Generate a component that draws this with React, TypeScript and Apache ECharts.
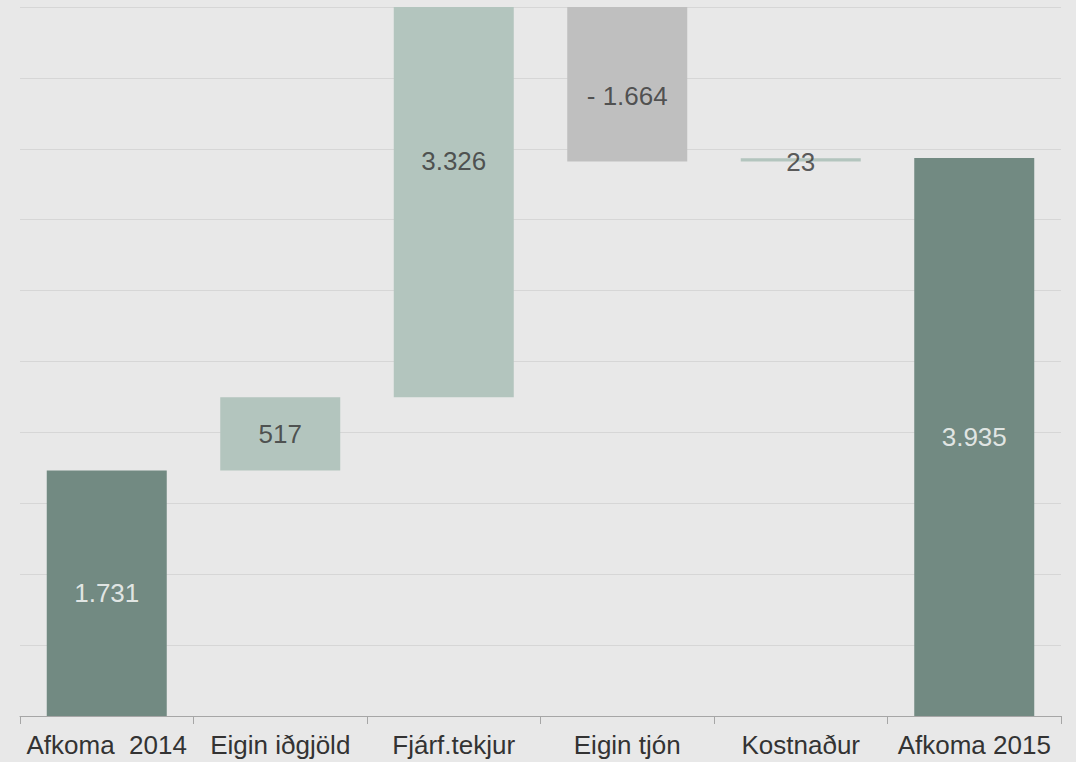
import React, { useEffect, useRef } from "react";
import * as echarts from "echarts";

const categories = ["Afkoma  2014", "Eigin iðgjöld", "Fjárf.tekjur", "Eigin tjón", "Kostnaður", "Afkoma 2015"];
const changes = [1731, 517, 3326, -1664, 23, 3935];
const isTotal = [true, false, false, false, false, true];
const yTicks = { min: 0, max: 5000, interval: 500 };

const DARK = "#728a82";
const LIGHT = "#b3c5be";
const NEG = "#bfbfbf";
const TEXT = "#333333";
const FONT = "'Liberation Sans', Arial, sans-serif";

function fmt(v: number): string {
  const s = Math.abs(v).toString().replace(/\B(?=(\d{3})+(?!\d))/g, ".");
  return (v < 0 ? "- " : "") + s;
}

export default function App() {
  const ref = useRef<HTMLDivElement>(null);
  useEffect(() => {
    document.body.style.margin = "0";
    if (!ref.current) return;
    const chart = echarts.init(ref.current, undefined, { renderer: "svg" });

    // waterfall layout from the values
    const bases: number[] = [];
    const heights: number[] = [];
    let running = 0;
    changes.forEach((c, i) => {
      if (isTotal[i]) {
        bases.push(0);
        heights.push(c);
        running = c;
      } else if (c >= 0) {
        bases.push(running);
        heights.push(c);
        running += c;
      } else {
        running += c;
        bases.push(running);
        heights.push(-c);
      }
    });

    const colors = changes.map((c, i) => (isTotal[i] ? DARK : c < 0 ? NEG : LIGHT));

    const labelData = changes.map((c, i) => {
      const mid = bases[i] + heights[i] / 2;
      return {
        value: [i, mid],
        label: {
          formatter: fmt(c),
          color: isTotal[i] ? "#ffffff" : TEXT,
          offset: i === 3 ? [0, 52] : i === 4 ? [0, 2] : [0, 0],
        },
      };
    });

    chart.setOption({
      animation: false,
      backgroundColor: "#e8e8e8",
      grid: { left: 20, right: 15, top: 7, bottom: 46, containLabel: false },
      xAxis: {
        type: "category",
        data: categories,
        boundaryGap: true,
        axisLine: { show: true, lineStyle: { color: "#a6a6a6", width: 1 } },
        axisTick: { show: true, length: 8, lineStyle: { color: "#a6a6a6" } },
        axisLabel: { interval: 0, fontSize: 26, color: TEXT, fontFamily: FONT, margin: 16 },
        splitLine: { show: false },
      },
      yAxis: {
        type: "value",
        min: yTicks.min,
        max: yTicks.max,
        interval: yTicks.interval,
        axisLabel: { show: false },
        axisLine: { show: false },
        axisTick: { show: false },
        splitLine: { show: true, lineStyle: { color: "#d6d6d6", width: 1 } },
      },
      series: [
        {
          type: "bar",
          stack: "w",
          barWidth: 120,
          data: bases,
          itemStyle: { color: "transparent" },
          silent: true,
        },
        {
          type: "bar",
          stack: "w",
          barWidth: 120,
          data: heights.map((h, i) => ({ value: h, itemStyle: { color: colors[i] } })),
        },
        {
          type: "scatter",
          symbolSize: 0,
          data: labelData,
          z: 10,
          itemStyle: { color: "transparent" },
          label: {
            show: true,
            position: "inside",
            fontSize: 26,
            fontFamily: FONT,
            textBorderWidth: 0,
            textShadowBlur: 0,
          },
        },
      ],
    });
    return () => chart.dispose();
  }, []);
  return <div ref={ref} style={{ width: 1076, height: 762 }} />;
}
